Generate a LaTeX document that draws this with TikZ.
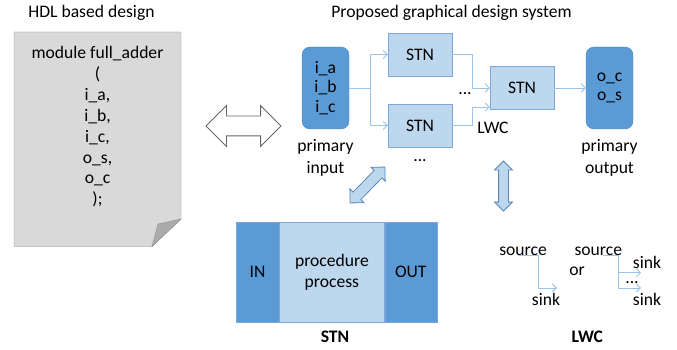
\documentclass[tikz,border=0pt]{standalone}
\usepackage{fontspec}
\setmainfont{Carlito}
\usetikzlibrary{arrows.meta,positioning,shapes.arrows}
\definecolor{portblue}{HTML}{5B9BD5}
\definecolor{portedge}{HTML}{4A86C0}
\definecolor{stnfill}{HTML}{BDD7EE}
\definecolor{stnedge}{HTML}{7DA7D9}
\definecolor{wireblue}{HTML}{9DC3E6}
\definecolor{linkedge}{HTML}{5B87B8}
\definecolor{paper}{HTML}{D9D9D9}
\definecolor{paperedge}{HTML}{8C8C8C}
\definecolor{paperfold}{HTML}{ABABAB}
\newcommand{\figfont}[1][20]{\fontsize{17.6}{#1}\selectfont}

\begin{document}
\begin{tikzpicture}[x=1pt, y=-1pt,
  font=\figfont,
  every node/.style={inner sep=0pt},
  txt/.style={anchor=base},
  heading/.style={anchor=base, font=\figfont\bfseries},
  stnbox/.style={rectangle, draw=stnedge, fill=stnfill,
    minimum width=64pt, minimum height=43pt},
  portbox/.style={rectangle, rounded corners=8pt, draw=portedge, fill=portblue,
    minimum width=47pt, minimum height=82pt, align=center, font={\figfont[19.5]}},
  wire/.style={draw=wireblue, line width=0.9pt, -{Straight Barb[length=4pt,width=8pt]}},
  link/.style={double arrow, draw=linkedge, fill=stnfill, line width=0.8pt,
    minimum height=50pt},
  part/.style={rectangle, draw=stnedge, minimum height=100pt, align=center},
]
\useasboundingbox (0,0) rectangle (677,350);

% ── Titles ──
\node[txt] (hdltitle) at (91.5,17.3) {HDL based design};
\node[txt] (guititle) at (451.5,17.3) {Proposed graphical design system};

% ── HDL sheet ──
\draw[paperedge, fill=paper] (14,32) -- (181,32) -- (181,219) -- (152,246.5) -- (14,246.5) -- cycle;
\draw[paperedge, fill=paperfold] (181,219) -- (158,224) -- (152,246.5) -- cycle;
\foreach \codeline [count=\k from 0] in {module full\_adder, {(}, {i\_a,}, {i\_b,}, {i\_c,}, {o\_s,}, o\_c, {);}}
  \node[txt] (code\k) at (97.5, 59+20.8*\k) {\codeline};

\node[double arrow, draw=black!60, fill=white, line width=0.8pt, minimum height=75pt,
  inner sep=9.5pt, double arrow head extend=10.5pt] (swap) at (243.5,126) {};

% ── Graphical design ──
\node[portbox] (pin) at (325.5,88) {i\_a\\i\_b\\i\_c};
\node[portbox] (pout) at (609.5,88) {o\_c\\o\_s};
\node[align=center, below=10pt of pin, font={\figfont[22]}] (pinlbl) {primary\\input};
\node[align=center, below=10pt of pout, font={\figfont[22]}] (poutlbl) {primary\\output};

\node[stnbox] (stnA) at (420,54.5) {STN};
\node[stnbox] (stnB) at (420,125.5) {STN};
\node[stnbox] (stnC) at (522,88) {STN};
\node[txt] (moreB) at (420,161) {...};
\node[txt] (moreC) at (465,95) {...};
\node[txt] (lwcname) at (493,134) {LWC};

\draw[wire] (pin.east) -- ++(21,0) coordinate (forkI) |- (stnA.west);
\draw[wire] (forkI) |- (stnB.west);
\draw[wire] (stnA.east) -- ++(20,0) |- (stnC.west);
\draw[wire] (stnB.east) -- ++(20,0) |- ([yshift=-19pt]stnC.west);
\draw[wire] (stnC.east) -- (pout.west);

\node[link, inner sep=5pt, double arrow head extend=4.5pt, rotate=45.8] (linkS) at (367.5,185) {};
\node[link, inner sep=4.5pt, double arrow head extend=4pt, rotate=90] (linkL) at (503.5,186) {};

% ── STN detail ──
\node[part, fill=portblue, minimum width=43pt] (stnin) at (257.5,272) {IN};
\node[part, fill=stnfill, minimum width=105pt, right=0pt of stnin, font={\figfont[21]}] (stnproc) {procedure\\process};
\node[part, fill=portblue, minimum width=52pt, right=0pt of stnproc] (stnout) {OUT};
\node[heading] (stntitle) at (335,342.5) {STN};

% ── LWC detail ──
\node[txt] (srcA) at (523,255.5) {source};
\node[txt] (sinkA) at (546,305) {sink};
\node[txt] (orword) at (577,275.7) {or};
\node[txt] (srcB) at (598.3,255.5) {source};
\node[txt] (sinkB1) at (647,268) {sink};
\node[txt] (sinkB2) at (647,305) {sink};
\node[txt] (moreD) at (632,283) {...};
\coordinate (tipA) at (557,288);
\coordinate (tipB1) at (641,272.7);
\coordinate (tipB2) at (641,288);
\draw[wire] ([xshift=-5pt]srcA.base) -- ++(20,0) |- (tipA);
\draw[wire] ([xshift=5pt]srcB.base) -- ++(15,0) coordinate (forkB) |- (tipB2);
\draw[wire] (forkB |- tipB1) -- (tipB1);
\node[heading] (lwctitle) at (587.3,342.5) {LWC};
\end{tikzpicture}
\end{document}
